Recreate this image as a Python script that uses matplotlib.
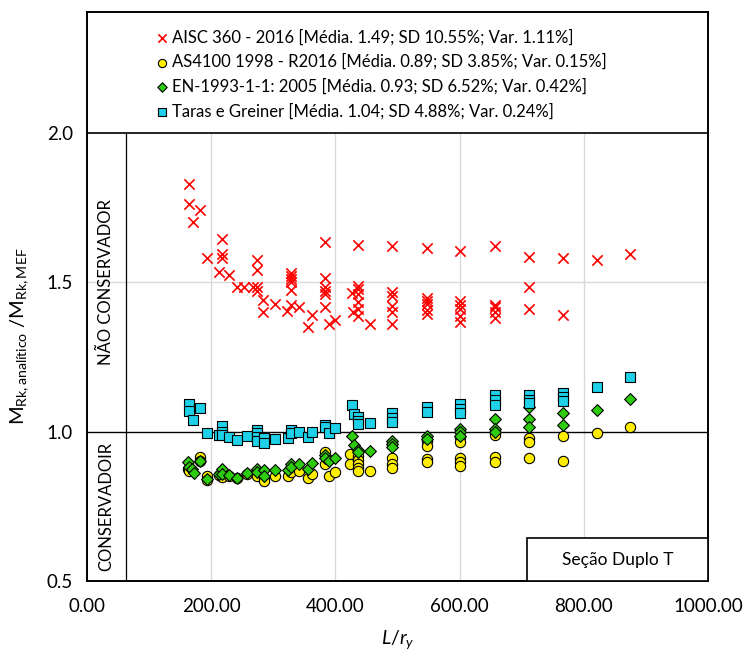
import numpy as np
import matplotlib
matplotlib.use('Agg')
import matplotlib.pyplot as plt
from matplotlib.patches import Rectangle

plt.rcParams['font.family'] = ['Lato', 'DejaVu Sans']
plt.rcParams['mathtext.fontset'] = 'custom'
plt.rcParams['mathtext.rm'] = 'Lato'
plt.rcParams['mathtext.it'] = 'Lato:italic'

# AISC 360 - 2016
aisc_x = [164, 164, 182, 171, 193, 218, 218, 218, 213, 229, 241, 253, 267, 274, 274, 274, 274,
          284, 303, 284, 328, 328, 328, 328, 328, 328, 322, 342, 363, 356,
          384, 384, 384, 384, 384, 384, 389, 399,
          437, 437, 437, 426, 437, 437, 437, 429, 437, 456,
          491, 491, 491, 491, 491, 491,
          548, 548, 548, 548, 548, 548,
          601, 601, 601, 601, 601, 601,
          657, 657, 657, 657, 657,
          711, 711, 711, 767, 767, 821, 874]
aisc_y = [1.829, 1.762, 1.742, 1.703, 1.583, 1.644, 1.596, 1.581, 1.535, 1.524, 1.485, 1.485, 1.485,
          1.574, 1.541, 1.485, 1.472, 1.440, 1.427, 1.400, 1.531, 1.520, 1.510, 1.500, 1.474, 1.425,
          1.405, 1.416, 1.390, 1.352,
          1.635, 1.514, 1.483, 1.472, 1.461, 1.416, 1.362, 1.375,
          1.625, 1.488, 1.477, 1.464, 1.460, 1.435, 1.410, 1.400, 1.388, 1.360,
          1.620, 1.466, 1.455, 1.421, 1.400, 1.360,
          1.614, 1.449, 1.438, 1.427, 1.407, 1.394,
          1.605, 1.438, 1.425, 1.410, 1.388, 1.366,
          1.620, 1.425, 1.416, 1.400, 1.380,
          1.586, 1.483, 1.412, 1.581, 1.390, 1.574, 1.596]

# AS4100 1998 - R2016
as_x = [162, 164, 182, 182, 193, 193, 212, 218, 229, 242, 258, 274, 274, 285, 285, 303, 323, 328,
        341, 356, 363, 384, 384, 389, 400, 424, 424, 437, 437, 437, 437, 437, 456, 491, 491, 491,
        548, 548, 548, 548, 601, 601, 601, 601, 601, 657, 657, 657, 711, 711, 711, 767, 767, 821, 874]
as_y = [0.875, 0.869, 0.916, 0.903, 0.853, 0.838, 0.856, 0.847, 0.850, 0.845, 0.859, 0.869, 0.853,
        0.845, 0.834, 0.853, 0.853, 0.864, 0.867, 0.845, 0.859, 0.931, 0.892, 0.853, 0.864, 0.925,
        0.892, 0.919, 0.905, 0.892, 0.878, 0.869, 0.869, 0.912, 0.892, 0.878,
        0.970, 0.953, 0.909, 0.897, 0.983, 0.964, 0.911, 0.897, 0.886, 0.990, 0.914, 0.897,
        0.979, 0.964, 0.913, 0.987, 0.903, 0.994, 1.017]

# EN-1993-1-1: 2005
en_x = [163, 164, 169, 172, 182, 193, 212, 218, 218, 229, 242, 258, 274, 274, 285, 285, 303, 323,
        328, 328, 341, 356, 363, 384, 384, 389, 400, 426, 430, 437, 437, 456, 491, 491, 491,
        548, 548, 601, 601, 601, 657, 657, 657, 711, 711, 711, 767, 767, 821, 874]
en_y = [0.897, 0.883, 0.875, 0.861, 0.903, 0.842, 0.858, 0.875, 0.858, 0.855, 0.845, 0.861, 0.875,
        0.864, 0.870, 0.853, 0.870, 0.873, 0.892, 0.883, 0.892, 0.875, 0.894, 0.923, 0.912, 0.903,
        0.912, 0.987, 0.955, 0.939, 0.931, 0.934, 0.970, 0.959, 0.948,
        0.987, 0.976, 1.009, 0.998, 0.987, 1.042, 1.009, 0.998, 1.081, 1.042, 1.017,
        1.061, 1.023, 1.074, 1.109]

# Taras e Greiner
tg_x = [164, 164, 171, 182, 193, 212, 218, 218, 218, 229, 242, 258, 274, 274, 274, 274, 285, 285,
        303, 323, 328, 328, 341, 356, 363, 384, 384, 389, 400, 426, 430, 437, 437, 437, 456,
        491, 491, 491, 548, 548, 601, 601, 601, 657, 657, 657, 711, 711, 711, 767, 767, 767, 821, 874]
tg_y = [1.093, 1.070, 1.040, 1.079, 0.994, 0.990, 1.020, 0.998, 0.990, 0.983, 0.972, 0.986, 1.006,
        0.994, 0.983, 0.970, 0.979, 0.961, 0.975, 0.979, 1.006, 0.994, 1.000, 0.981, 0.998, 1.023,
        1.014, 0.994, 1.011, 1.089, 1.059, 1.048, 1.037, 1.026, 1.029, 1.061, 1.046, 1.034,
        1.081, 1.067, 1.093, 1.076, 1.061, 1.123, 1.106, 1.090, 1.123, 1.106, 1.095,
        1.131, 1.115, 1.101, 1.150, 1.184]

labels = ['AISC 360 - 2016 [Média. 1.49; SD 10.55%; Var. 1.11%]',
          'AS4100 1998 - R2016 [Média. 0.89; SD 3.85%; Var. 0.15%]',
          'EN-1993-1-1: 2005 [Média. 0.93; SD 6.52%; Var. 0.42%]',
          'Taras e Greiner [Média. 1.04; SD 4.88%; Var. 0.24%]']

fig = plt.figure(figsize=(7.44, 6.57), dpi=100)
ax = fig.add_axes([87 / 744, 76 / 657, 621 / 744, 569 / 657])
ax.set_xlim(0, 1000)
ax.set_ylim(0.5, 2.405)

# grid inside the data region only
ax.vlines([200, 400, 600, 800], 0.5, 2.0, color='#d9d9d9', lw=1, zorder=0)
ax.hlines(1.5, 0, 1000, color='#d9d9d9', lw=1, zorder=0)
ax.axhline(1.0, color='black', lw=1, zorder=1)
ax.axhline(2.0, color='black', lw=1.2, zorder=1)
ax.vlines(63, 0.5, 2.0, color='black', lw=0.9, zorder=1)

ax.scatter(aisc_x, aisc_y, marker='x', s=55, color='#ff0000', linewidths=1.2, zorder=3, label=labels[0])
ax.scatter(as_x, as_y, marker='o', s=55, facecolor='#ffee00', edgecolor='black', linewidths=0.8,
           zorder=3, label=labels[1])
ax.scatter(en_x, en_y, marker='D', s=36, facecolor='#2ecc0f', edgecolor='black', linewidths=0.8,
           zorder=4, label=labels[2])
ax.scatter(tg_x, tg_y, marker='s', s=48, facecolor='#1ed0e8', edgecolor='black', linewidths=0.8,
           zorder=5, label=labels[3])

leg = ax.legend(loc='upper left', bbox_to_anchor=(0.1, 0.985), frameon=False, fontsize=12,
                handlelength=0.6, handletextpad=0.3, labelspacing=0.5, borderpad=0,
                markerscale=0.8)

ax.text(31, 1.5, 'NÃO CONSERVADOR', rotation=90, ha='center', va='center', fontsize=12)
ax.text(31, 0.75, 'CONSERVADOIR', rotation=90, ha='center', va='center', fontsize=12)

ax.add_patch(Rectangle((709, 0.5), 291, 0.143, facecolor='white', edgecolor='black', lw=1.2, zorder=6))
ax.text(854, 0.571, 'Seção Duplo T', ha='center', va='center', fontsize=12.5, zorder=7)

ax.set_yticks([0.5, 1.0, 1.5, 2.0])
ax.set_yticklabels(['0.5', '1.0', '1.5', '2.0'])
ax.set_xticks([0, 200, 400, 600, 800, 1000])
ax.set_xticklabels(['0.00', '200.00', '400.00', '600.00', '800.00', '1000.00'])
ax.tick_params(length=0, labelsize=13.5, pad=10)
ax.tick_params(axis='x', pad=12)
for s in ax.spines.values():
    s.set_linewidth(1.4)

ax.set_xlabel(r'$\it{L/r_y}$', fontsize=14)
ax.xaxis.set_label_coords(0.5, -0.082)
ax.set_ylabel(r'M$_{\mathregular{Rk,analítico}}$ /M$_{\mathregular{Rk,MEF}}$', fontsize=14.5)
ax.yaxis.set_label_coords(-0.09, 0.43)

fig.savefig('out.png', dpi=100)
